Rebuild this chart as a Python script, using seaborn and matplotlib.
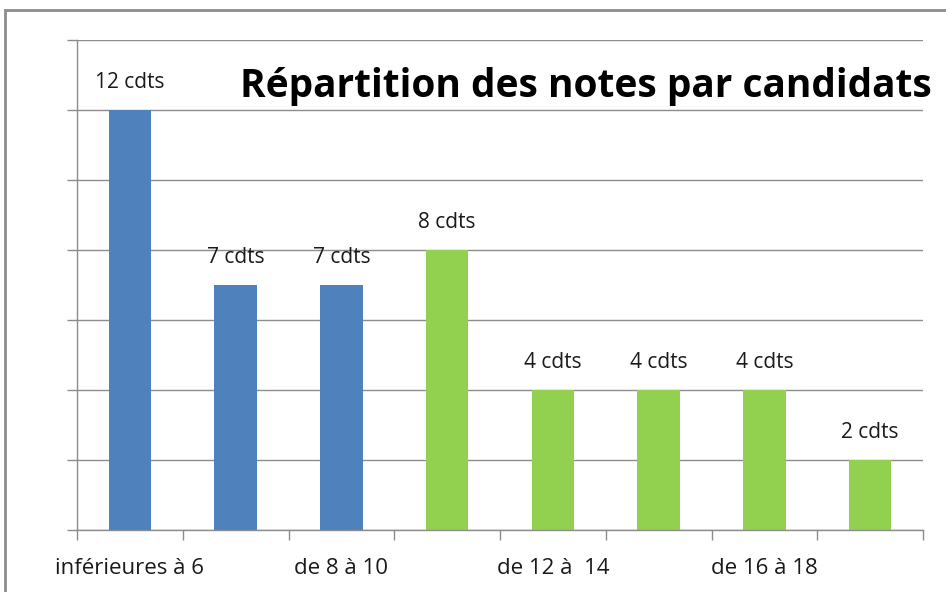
"""
Répartition des notes par candidats - bar chart
"""
import matplotlib
matplotlib.use('Agg')
import matplotlib.pyplot as plt
from matplotlib.patches import Rectangle
import seaborn as sns
import pandas as pd

# Data
categories = ['inférieures à 6', 'de 6 à 8', 'de 8 à 10', 'de 10 à 12',
              'de 12 à  14', 'de 14 à 16', 'de 16 à 18', 'de 18 à 20']
counts = [12, 7, 7, 8, 4, 4, 4, 2]
groups = ['bas', 'bas', 'bas', 'haut', 'haut', 'haut', 'haut', 'haut']
bar_labels = [f'{c} cdts' for c in counts]

palette = {'bas': '#4F81BD', 'haut': '#92D050'}
grid_color = '#8C8C8C'
text_color = '#1A1A1A'

sns.set_theme(style='white')
plt.rcParams['font.family'] = ['Open Sans', 'DejaVu Sans']

df = pd.DataFrame({'cat': categories, 'n': counts, 'grp': groups})

fig = plt.figure(figsize=(9.46, 5.92), dpi=100)
ax = fig.add_axes([77 / 946, 1 - 530 / 592, (923 - 77) / 946, (530 - 40) / 592])

sns.barplot(data=df, x='cat', y='n', hue='grp', palette=palette,
            dodge=False, width=0.4, saturation=1, legend=False,
            linewidth=0, ax=ax)

# Bar value labels, matched to category by bar position
for cont in ax.containers:
    labs = []
    for bar in cont:
        i = int(round(bar.get_x() + bar.get_width() / 2))
        h = bar.get_height()
        labs.append(bar_labels[i] if h == h and h > 0 else '')
    ax.bar_label(cont, labels=labs, padding=12, fontsize=15, color=text_color)

# Axes
ax.set_ylim(0, 14)
ax.set_xlim(-0.5, len(categories) - 0.5)
ax.set_yticks(range(0, 15, 2))
ax.set_yticklabels([])
ax.yaxis.grid(True, color=grid_color, linewidth=1)
ax.set_axisbelow(True)
ax.tick_params(axis='y', length=7, color=grid_color, width=1, left=True)

ax.set_xticks(range(len(categories)))
ax.set_xticklabels([c if i % 2 == 0 else '' for i, c in enumerate(categories)],
                   fontsize=16, color=text_color)
ax.tick_params(axis='x', which='major', length=0, pad=20)
ax.set_xticks([i - 0.5 for i in range(len(categories) + 1)], minor=True)
ax.tick_params(axis='x', which='minor', length=7, color=grid_color, width=1, bottom=True)
ax.set_xlabel('')
ax.set_ylabel('')

for s in ['top', 'right']:
    ax.spines[s].set_visible(False)
for s in ['left', 'bottom']:
    ax.spines[s].set_color(grid_color)
    ax.spines[s].set_linewidth(1)

# Title
fig.text(240 / 946, 1 - 87 / 592, 'Répartition des notes par candidats',
         fontsize=28, fontweight='bold', color='black', va='center', ha='left')

# Chart frame
fig.patches.append(Rectangle((5 / 946, -0.1), 1.2, 1 - 10 / 592 + 0.1,
                             transform=fig.transFigure, fill=False,
                             edgecolor='#8C8C8C', linewidth=2))

plt.savefig('out.png', dpi=100)
plt.close()
